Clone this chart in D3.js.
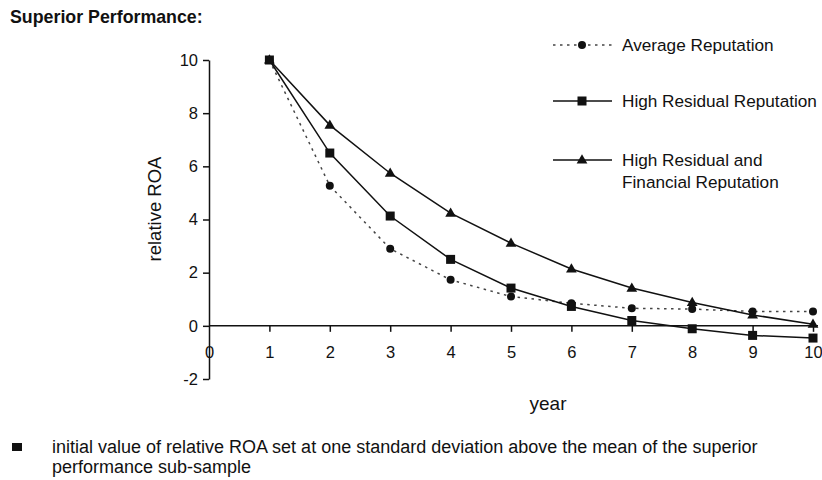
<!DOCTYPE html>
<html>
<head>
<meta charset="utf-8">
<script src="https://cdn.jsdelivr.net/npm/d3@7"></script>
<style>
  body { margin: 0; background: #fff; }
  text { font-family: "Liberation Sans", Arial, sans-serif; fill: #111; }
</style>
</head>
<body>
<div id="display"></div>
<script>
// data
const years = [1, 2, 3, 4, 5, 6, 7, 8, 9, 10];
const averageRep = [10, 5.27, 2.9, 1.73, 1.1, 0.85, 0.66, 0.63, 0.54, 0.54];
const highResidual = [10, 6.5, 4.13, 2.5, 1.42, 0.73, 0.2, -0.11, -0.36, -0.46];
const highResFin = [10, 7.55, 5.74, 4.24, 3.11, 2.14, 1.42, 0.88, 0.41, 0.06];
const xTicks = [0, 1, 2, 3, 4, 5, 6, 7, 8, 9, 10];
const yTicks = [-2, 0, 2, 4, 6, 8, 10];

const series = [
    {name: ['Average Reputation'], values: averageRep, marker: 'circle', dash: '2.5,4.5', color: '#444'},
    {name: ['High Residual Reputation'], values: highResidual, marker: 'square', dash: null, color: '#111'},
    {name: ['High Residual and', 'Financial Reputation'], values: highResFin, marker: 'triangle', dash: null, color: '#111'}
];

let W = 822, H = 480;
let svg = d3.select('#display')
    .append('svg')
        .attr('width', W)
        .attr('height', H);

// scales
let x = d3.scaleLinear().domain([0, 10]).range([209, 813]);
let y = d3.scaleLinear().domain([-2, 10]).range([379, 60]);

// title
svg.append('text')
    .attr('x', 10).attr('y', 23)
    .style('font-size', '17.8px')
    .style('font-weight', 'bold')
    .text('Superior Performance:');

// Y axis
let yAxis = svg.append('g')
    .attr('transform', 'translate(' + x(0) + ',0)')
    .call(d3.axisLeft(y).tickValues(yTicks).tickFormat(d => String(d))
        .tickSize(6).tickSizeOuter(0).tickPadding(5));
yAxis.select('.domain').attr('stroke', '#111').attr('stroke-width', 1.5);
yAxis.selectAll('.tick line').attr('stroke', '#111').attr('stroke-width', 1.5);
yAxis.selectAll('.tick text')
    .style('font-size', '16.5px')
    .style('font-family', '"Liberation Sans", Arial, sans-serif')
    .attr('fill', '#111');

// X axis, sitting on y = 0
let xAxis = svg.append('g')
    .attr('transform', 'translate(0,' + y(0) + ')')
    .call(d3.axisBottom(x).tickValues(xTicks).tickFormat(d => String(d))
        .tickSize(6).tickPadding(14));
xAxis.select('.domain').remove();
xAxis.selectAll('.tick line').attr('stroke', '#111').attr('stroke-width', 1.5)
    .filter(d => d === 0).remove();
xAxis.selectAll('.tick text')
    .style('font-size', '16.5px')
    .style('font-family', '"Liberation Sans", Arial, sans-serif')
    .attr('fill', '#111');
xAxis.append('line')
    .attr('x1', x(0)).attr('x2', x(10) + 5)
    .attr('y1', 0).attr('y2', 0)
    .attr('stroke', '#111').attr('stroke-width', 1.5);

// axis titles
svg.append('text')
    .attr('transform', 'translate(161,209) rotate(-90)')
    .attr('text-anchor', 'middle')
    .style('font-size', '18.5px')
    .text('relative ROA');

svg.append('text')
    .attr('x', 548).attr('y', 410)
    .attr('text-anchor', 'middle')
    .style('font-size', '19px')
    .text('year');

// markers
function drawMarker(g, type, cx, cy) {
    if (type === 'circle') {
        g.append('circle').attr('cx', cx).attr('cy', cy).attr('r', 4).attr('fill', '#111');
    } else if (type === 'square') {
        g.append('rect').attr('x', cx - 4.5).attr('y', cy - 4.5).attr('width', 9).attr('height', 9).attr('fill', '#111');
    } else {
        g.append('path')
            .attr('d', d3.symbol().type(d3.symbolTriangle).size(50)())
            .attr('transform', 'translate(' + cx + ',' + (cy + 0.5) + ')')
            .attr('fill', '#111');
    }
}

let line = d3.line()
    .x((d, i) => x(years[i]))
    .y(d => y(d));

series.forEach(s => {
    let g = svg.append('g');
    g.append('path')
        .datum(s.values)
        .attr('d', line)
        .attr('fill', 'none')
        .attr('stroke', s.color)
        .attr('stroke-width', 1.5)
        .attr('stroke-dasharray', s.dash);
    s.values.forEach((v, i) => drawMarker(g, s.marker, x(years[i]), y(v)));
});

// legend
let legendY = [45, 101, 160];
series.forEach((s, k) => {
    let g = svg.append('g');
    g.append('line')
        .attr('x1', 553).attr('x2', 612)
        .attr('y1', legendY[k]).attr('y2', legendY[k])
        .attr('stroke', s.color)
        .attr('stroke-width', 1.5)
        .attr('stroke-dasharray', s.dash);
    drawMarker(g, s.marker, 582, legendY[k]);
    s.name.forEach((t, j) => {
        g.append('text')
            .attr('x', 622)
            .attr('y', legendY[k] + 6 + j * 22)
            .style('font-size', '17.2px')
            .text(t);
    });
});

// footnote
svg.append('rect')
    .attr('x', 12).attr('y', 443)
    .attr('width', 10).attr('height', 8)
    .attr('fill', '#111');
let foot = ['initial value of relative ROA set at one standard deviation above the mean of the superior',
            'performance sub-sample'];
foot.forEach((t, j) => {
    svg.append('text')
        .attr('x', 52).attr('y', 453 + j * 20)
        .style('font-size', '18px')
        .text(t);
});
</script>
</body>
</html>
